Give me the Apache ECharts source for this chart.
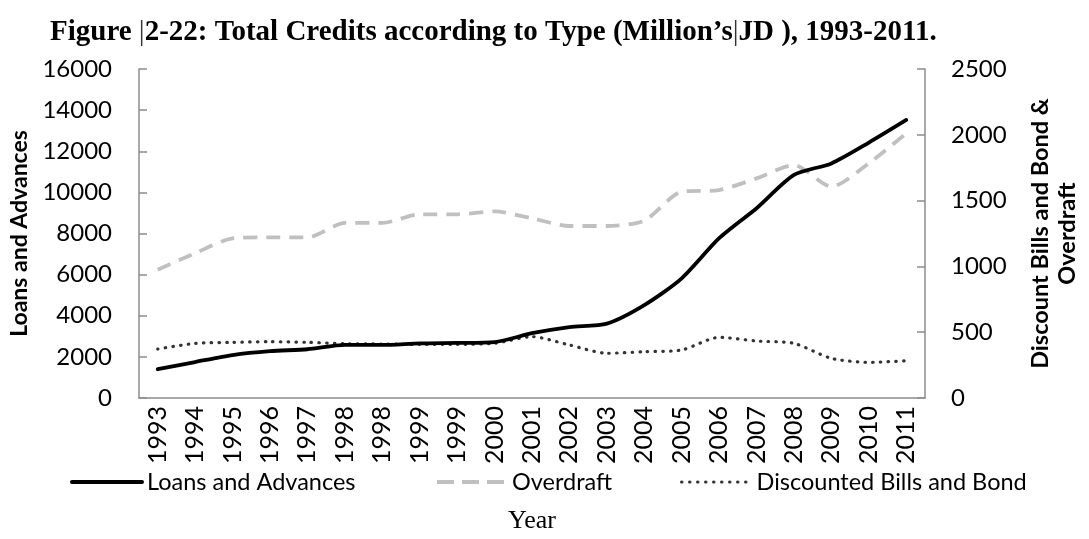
<!DOCTYPE html>
<html>
<head>
<meta charset="utf-8">
<title>Total Credits according to Type</title>
<script src="https://cdn.jsdelivr.net/npm/echarts@6/dist/echarts.min.js"></script>
<style>
  html, body { margin: 0; padding: 0; background: #fff; }
  #chart { width: 1089px; height: 539px; }
</style>
</head>
<body>
<div id="chart"></div>
<script>
// Years along the x axis (the source table repeats 1998 and 1999)
const years = ['1993','1994','1995','1996','1997','1998','1998','1999','1999','2000',
               '2001','2002','2003','2004','2005','2006','2007','2008','2009','2010','2011'];

// Loans and Advances (left axis, million JD)
const loansAdvances = [1400, 1750, 2090, 2280, 2370, 2580, 2580, 2660, 2680, 2720,
                       3150, 3450, 3620, 4520, 5820, 7770, 9230, 10850, 11410, 12420, 13520];

// Overdraft (right axis, million JD)
const overdraft = [975, 1100, 1213, 1221, 1220, 1330, 1330, 1396, 1396, 1418,
                   1365, 1307, 1307, 1347, 1568, 1580, 1669, 1770, 1606, 1783, 2011];

// Discounted Bills and Bond (right axis, million JD)
const discountedBills = [372, 415, 423, 428, 423, 413, 410, 408, 408, 416,
                         466, 403, 340, 352, 365, 461, 433, 415, 301, 271, 283];

const sansFont = 'Lato';
const serifFont = '"Liberation Serif", "Times New Roman", serif';
const axisGray = '#8c8c8c';
const tickFont = 24;

// line styles shared by the series and their legend keys
const loansLine = { color: '#000', width: 3.8, cap: 'round', join: 'round' };
const overdraftLine = { color: '#c0c0c0', width: 3.8, type: [14, 9], cap: 'butt' };
const discountLine = { color: '#333', width: 3.2, type: [0.5, 7.2], cap: 'round' };

const chart = echarts.init(document.getElementById('chart'), null, { renderer: 'canvas' });

const legendText = { fontFamily: sansFont, fontSize: 23.5, color: '#000' };
function legendFor(name, left, lineStyle) {
  return {
    data: [name],
    left: left,
    top: 470,
    itemWidth: 70,
    itemHeight: 14,
    itemGap: 0,
    padding: 0,
    itemStyle: { opacity: 0 },
    lineStyle: lineStyle,
    textStyle: legendText,
    selectedMode: false
  };
}

// plain integer tick labels, no thousands separator
const plain = v => String(v);

chart.setOption({
  animation: false,
  backgroundColor: '#fff',
  title: {
    text: 'Figure {bar||}2-22: Total Credits according to Type (Million’s{bar||}JD ), 1993-2011.',
    left: 50,
    top: 18,
    padding: 0,
    textStyle: {
      fontFamily: serifFont,
      fontWeight: 'bold',
      fontSize: 29,
      color: '#000',
      rich: {
        bar: { fontFamily: serifFont, fontWeight: 'normal', fontSize: 29, color: '#333' }
      }
    }
  },
  legend: [
    legendFor('Loans and Advances', 70, { width: 4 }),
    legendFor('Overdraft', 435, { width: 4, type: [17, 8] }),
    legendFor('Discounted Bills and Bond', 680, { width: 3, type: [0.5, 7.5], cap: 'round' })
  ],
  grid: { left: 137, right: 140, top: 69, bottom: 141, containLabel: false },
  xAxis: {
    type: 'category',
    data: years,
    boundaryGap: true,
    name: 'Year',
    nameLocation: 'middle',
    nameGap: 110,
    nameTextStyle: { fontFamily: serifFont, fontSize: 26, color: '#000' },
    axisLine: { lineStyle: { color: axisGray, width: 1.5 } },
    axisTick: { inside: true, length: 7, lineStyle: { color: axisGray, width: 1.5 } },
    axisLabel: {
      rotate: 90,
      interval: 0,
      margin: 8,
      fontFamily: sansFont,
      fontSize: 25,
      color: '#000'
    },
    splitLine: { show: false }
  },
  yAxis: [
    {
      type: 'value',
      min: 0,
      max: 16000,
      interval: 2000,
      position: 'left',
      name: 'Loans and Advances',
      nameLocation: 'middle',
      nameRotate: 90,
      nameGap: 108,
      nameTextStyle: { fontFamily: sansFont, fontSize: 23, fontWeight: 'bold', color: '#000' },
      axisLine: { show: true, lineStyle: { color: axisGray, width: 1.5 } },
      axisTick: { show: true, inside: true, length: 8, lineStyle: { color: axisGray, width: 1.5 } },
      axisLabel: { margin: 27, fontFamily: sansFont, fontSize: tickFont, color: '#000', formatter: plain },
      splitLine: { show: false }
    },
    {
      type: 'value',
      min: 0,
      max: 2500,
      interval: 500,
      position: 'right',
      name: 'Discount Bills and Bond &\nOverdraft',
      nameLocation: 'middle',
      nameRotate: 90,
      nameGap: 102,
      nameTextStyle: { fontFamily: sansFont, fontSize: 23.5, fontWeight: 'bold', color: '#000', lineHeight: 27, align: 'center' },
      axisLine: { show: true, lineStyle: { color: axisGray, width: 1.5 } },
      axisTick: { show: true, inside: true, length: 8, lineStyle: { color: axisGray, width: 1.5 } },
      axisLabel: { margin: 26, fontFamily: sansFont, fontSize: tickFont, color: '#000', formatter: plain },
      splitLine: { show: false }
    }
  ],
  series: [
    {
      name: 'Loans and Advances',
      type: 'line',
      yAxisIndex: 0,
      data: loansAdvances,
      smooth: 0.25,
      symbol: 'none',
      lineStyle: loansLine,
      itemStyle: { color: loansLine.color },
      z: 4
    },
    {
      name: 'Overdraft',
      type: 'line',
      yAxisIndex: 1,
      data: overdraft,
      smooth: 0.25,
      symbol: 'none',
      lineStyle: overdraftLine,
      itemStyle: { color: overdraftLine.color },
      z: 2
    },
    {
      name: 'Discounted Bills and Bond',
      type: 'line',
      yAxisIndex: 1,
      data: discountedBills,
      smooth: 0.25,
      symbol: 'none',
      lineStyle: discountLine,
      itemStyle: { color: discountLine.color },
      z: 3
    }
  ]
});
</script>
</body>
</html>
